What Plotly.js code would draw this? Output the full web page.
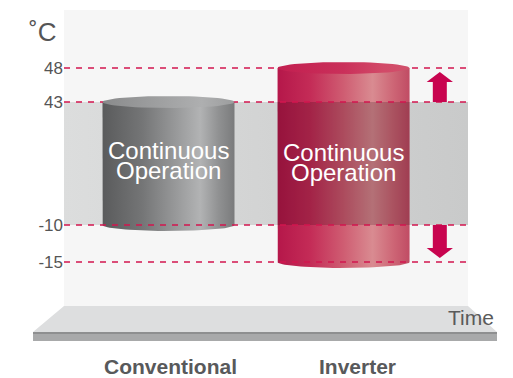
<!DOCTYPE html>
<html>
<head>
<meta charset="utf-8">
<script src="https://cdn.plot.ly/plotly-3.0.1.min.js"></script>
<style>
    html, body { margin: 0; padding: 0; background: #fff; }
    #grafico { width: 513px; height: 378px; }
</style>
</head>
<body>
<div id="grafico"></div>
<script>
'use strict';

/* Rango de operación continua por tipo de equipo (°C) */

let categorias = ['Conventional', 'Inverter'];
let tempMin = [-10, -15];
let tempMax = [43, 48];
let tickTemps = [48, 43, -10, -15];
let textoCilindro = ['Continuous', 'Operation'];

// el eje del dibujo no es lineal: temperaturas en los nodos -> unidades del eje
let nodoTemp = [-15, -10, 43, 48];
let nodoPos = [0, 37, 160, 194];

function escala(t) {
    for (let i = 0; i < nodoTemp.length - 1; i++) {
        if (t <= nodoTemp[i + 1] || i == nodoTemp.length - 2) {
            let m = (nodoPos[i + 1] - nodoPos[i]) / (nodoTemp[i + 1] - nodoTemp[i]);
            return nodoPos[i] + (t - nodoTemp[i]) * m;
        }
    }
}

function arco(cx, cy, rx, ry, a0, a1, n) {
    let xs = [];
    let ys = [];
    for (let k = 0; k <= n; k++) {
        let a = a0 + (a1 - a0) * k / n;
        xs.push(cx + rx * Math.cos(a));
        ys.push(cy + ry * Math.sin(a));
    }
    return { x: xs, y: ys };
}

function relleno(xs, ys, fill) {
    let t = {
        type: 'scatter',
        mode: 'lines',
        x: xs,
        y: ys,
        fill: 'toself',
        line: { width: 0 },
        hoverinfo: 'skip',
        showlegend: false
    };
    if (typeof fill == 'string') {
        t.fillcolor = fill;
    } else {
        t.fillgradient = { type: 'horizontal', colorscale: fill };
    }
    return t;
}

let xMin = -0.597;
let xMax = 1.711;
let rx = 0.377;
let ry = 6;

let coloresCuerpo = [
    [[0, '#5a5b5c'], [0.3, '#747576'], [0.55, '#979899'], [0.74, '#b2b3b4'], [0.88, '#909192'], [1, '#7a7b7c']],
    [[0, '#b5174a'], [0.25, '#c42c57'], [0.5, '#cf5d72'], [0.72, '#d98b91'], [0.88, '#cd6575'], [1, '#c04c64']]
];
let coloresTapa = [
    [[0, '#8a8b8c'], [0.5, '#a2a3a4'], [0.75, '#aeafb0'], [1, '#9c9d9e']],
    [[0, '#c21f50'], [0.5, '#ca305a'], [0.8, '#d24a68'], [1, '#d0506b']]
];

let trazas = [];

// franja gris del rango convencional
trazas.push(relleno(
    [xMin, xMax, xMax, xMin],
    [escala(tempMin[0]), escala(tempMin[0]), escala(tempMax[0]), escala(tempMax[0])],
    [[0, '#dcdddd'], [1, '#c9caca']]
));

// cuerpos de los cilindros
for (let i = 0; i < categorias.length; i++) {
    let lo = escala(tempMin[i]);
    let hi = escala(tempMax[i]);
    let fondo = arco(i, lo, rx, ry, Math.PI, 2 * Math.PI, 40);
    trazas.push(relleno(
        [i - rx].concat(fondo.x, [i + rx]),
        [hi].concat(fondo.y, [hi]),
        coloresCuerpo[i]
    ));
}

// el inverter se oscurece donde pasa por la franja gris
trazas.push(relleno(
    [1 - rx, 1 + rx, 1 + rx, 1 - rx],
    [escala(tempMin[0]), escala(tempMin[0]), escala(tempMax[0]), escala(tempMax[0])],
    'rgba(20,0,5,0.19)'
));

// líneas punteadas de referencia
for (let i = 0; i < tickTemps.length; i++) {
    trazas.push({
        type: 'scatter',
        mode: 'lines',
        x: [xMin, xMax],
        y: [escala(tickTemps[i]), escala(tickTemps[i])],
        line: { color: '#d2164f', width: 1.3, dash: '6px,6px' },
        hoverinfo: 'skip',
        showlegend: false
    });
}

// tapas
for (let i = 0; i < categorias.length; i++) {
    let tapa = arco(i, escala(tempMax[i]), rx, ry, 0, 2 * Math.PI, 60);
    trazas.push(relleno(tapa.x, tapa.y, coloresTapa[i]));
}

// flechas: cuánto más amplía el inverter el rango
function flecha(x, base, punta) {
    let dir = punta > base ? 1 : -1;
    let cabeza = punta - dir * 10;
    let sw = 0.04;
    let hw = 0.075;
    return relleno(
        [x - sw, x - sw, x - hw, x, x + hw, x + sw, x + sw],
        [base, cabeza, cabeza, punta, cabeza, cabeza, base],
        '#c8044f'
    );
}
let xFlecha = 1.55;
trazas.push(flecha(xFlecha, escala(tempMax[0]), escala(tempMax[1]) - 4));
trazas.push(flecha(xFlecha, escala(tempMin[0]), escala(tempMin[1]) + 4));

let anotaciones = [];
let desplazaEtiqueta = [2, 14];
for (let i = 0; i < categorias.length; i++) {
    let yc = (escala(tempMin[i]) + escala(tempMax[i])) / 2;
    anotaciones.push({
        x: i, y: yc, xref: 'x', yref: 'y', yshift: 13,
        text: textoCilindro[0], showarrow: false,
        font: { size: 24, color: '#ffffff' }
    });
    anotaciones.push({
        x: i, y: yc, xref: 'x', yref: 'y', yshift: -7,
        text: textoCilindro[1], showarrow: false,
        font: { size: 24, color: '#ffffff' }
    });
    anotaciones.push({
        x: i, y: 0, xref: 'x', yref: 'paper', yanchor: 'middle',
        xshift: desplazaEtiqueta[i], yshift: -60,
        text: '<b>' + categorias[i] + '</b>', showarrow: false,
        font: { size: 21, color: '#58595b' }
    });
}
anotaciones.push({
    x: 0, y: 1, xref: 'paper', yref: 'paper', xanchor: 'right', yanchor: 'middle',
    xshift: -6, yshift: -22, text: '˚C', showarrow: false,
    font: { size: 26, color: '#555555' }
});
anotaciones.push({
    x: 1, y: 0, xref: 'paper', yref: 'paper', xanchor: 'right', yanchor: 'middle',
    xshift: 28, yshift: -11, text: 'Time', showarrow: false,
    font: { size: 21, color: '#5a5a5a' }
});

let layout = {
    width: 513,
    height: 378,
    margin: { l: 64, r: 45, t: 10, b: 72 },
    paper_bgcolor: '#ffffff',
    plot_bgcolor: '#f6f6f6',
    font: { family: 'Liberation Sans, Arial, sans-serif', color: '#555555' },
    showlegend: false,
    xaxis: {
        range: [xMin, xMax],
        showgrid: false,
        zeroline: false,
        showticklabels: false,
        ticks: ''
    },
    yaxis: {
        range: [-44, 252],
        showgrid: false,
        zeroline: false,
        ticks: '',
        tickvals: tickTemps.map(escala),
        ticktext: tickTemps.map(String),
        tickfont: { size: 17, color: '#555555' }
    },
    shapes: [
        {
            type: 'path', xref: 'paper', yref: 'paper', layer: 'above',
            path: 'M 0 0 L 1 0 L 1.0718 -0.0878 L -0.0767 -0.0878 Z',
            fillcolor: '#dddedf', line: { width: 0 }
        },
        {
            type: 'rect', xref: 'paper', yref: 'paper', layer: 'above',
            x0: -0.0767, x1: 1.0718, y0: -0.0878, y1: -0.1182,
            fillcolor: '#a8a9aa', line: { width: 0 }
        },
        {
            type: 'line', xref: 'paper', yref: 'paper', layer: 'above',
            x0: -0.0767, x1: 1.0718, y0: -0.0912, y1: -0.0912,
            line: { color: '#8e8f90', width: 2 }
        }
    ],
    annotations: anotaciones
};

let config = {
    staticPlot: true,
    displayModeBar: false,
    responsive: false
};

Plotly.newPlot('grafico', trazas, layout, config);
</script>
</body>
</html>
